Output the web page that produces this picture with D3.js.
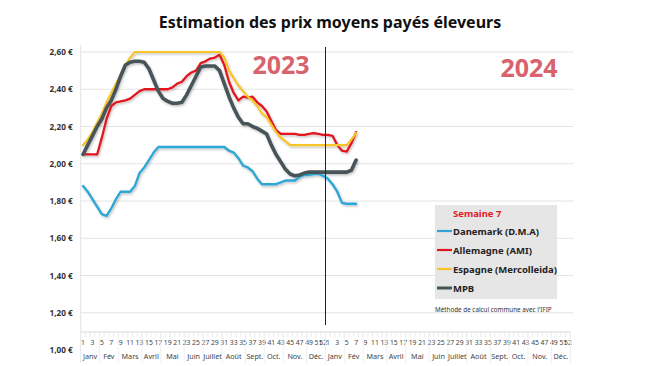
<!DOCTYPE html>
<html>
<head>
<meta charset="utf-8">
<script src="https://cdn.jsdelivr.net/npm/d3@7"></script>
<style>
  body { margin: 0; background: #fff; }
  svg { display: block; font-family: "Noto Sans", "Open Sans", sans-serif; }
</style>
</head>
<body>
<svg id="chart" width="650" height="366"></svg>
<script>
// data --------------------------------------------------------------
var years = ["2023", "2024"];
var weeksPerYear = 52;
var monthNames  = ["Janv","Fév","Mars","Avril","Mai","Juin","Juillet","Août","Sept.","Oct.","Nov.","Déc."];
var monthWeeks  = [4, 4, 5, 4, 5, 4, 4, 5, 4, 4, 5, 4];   // weeks per month
var yTicks = [1.0, 1.2, 1.4, 1.6, 1.8, 2.0, 2.2, 2.4, 2.6];

// 2023 w1..w52 then 2024 w1..w7
var danemark = [1.88,1.85,1.81,1.77,1.73,1.72,1.76,1.81,1.85,1.85,1.85,1.88,1.95,1.98,2.02,2.06,2.09,
  2.09,2.09,2.09,2.09,2.09,2.09,2.09,2.09,2.09,2.09,2.09,2.09,2.09,2.09,2.07,2.06,2.03,1.99,1.98,1.96,
  1.92,1.89,1.89,1.89,1.89,1.90,1.91,1.91,1.91,1.93,1.94,1.94,1.945,1.945,1.935,
  1.92,1.89,1.85,1.79,1.785,1.785,1.785];
var allemagne = [2.05,2.05,2.05,2.05,2.14,2.24,2.31,2.33,2.335,2.34,2.35,2.37,2.39,2.40,2.40,2.40,2.40,
  2.40,2.40,2.41,2.43,2.44,2.47,2.49,2.50,2.54,2.55,2.565,2.57,2.585,2.53,2.44,2.38,2.34,2.36,2.355,2.36,
  2.33,2.31,2.28,2.23,2.18,2.16,2.16,2.16,2.16,2.155,2.155,2.16,2.165,2.16,2.155,
  2.155,2.15,2.10,2.07,2.065,2.11,2.17];
var espagne = [2.10,2.13,2.17,2.22,2.27,2.33,2.38,2.43,2.48,2.53,2.57,2.60,2.60,2.60,2.60,2.60,2.60,
  2.60,2.60,2.60,2.60,2.60,2.60,2.60,2.60,2.60,2.60,2.60,2.60,2.60,2.57,2.50,2.46,2.42,2.39,2.36,2.34,
  2.31,2.27,2.25,2.21,2.17,2.14,2.12,2.10,2.10,2.10,2.10,2.10,2.10,2.10,2.10,
  2.10,2.10,2.10,2.10,2.10,2.13,2.165];
var mpb = [2.05,2.10,2.15,2.20,2.24,2.30,2.34,2.40,2.47,2.53,2.545,2.55,2.55,2.545,2.51,2.45,2.39,
  2.35,2.335,2.325,2.325,2.33,2.37,2.42,2.47,2.52,2.525,2.525,2.525,2.50,2.43,2.36,2.30,2.25,2.215,2.215,2.20,
  2.19,2.175,2.16,2.10,2.05,2.01,1.97,1.945,1.935,1.94,1.95,1.955,1.955,1.955,1.955,
  1.955,1.955,1.955,1.955,1.955,1.965,2.02];

var seriesNames  = ["Danemark (D.M.A)", "Allemagne (AMI)", "Espagne (Mercolleida)", "MPB"];
var seriesValues = [danemark, allemagne, espagne, mpb];
var seriesColors = ["#2fa6d6", "#e2161e", "#f7c429", "#465559"];
var seriesWidths = [2.4, 2.3, 2.2, 3.6];
var legendTitle = "Semaine 7";
var note = "Méthode de calcul commune avec l'IFIP";
var title = "Estimation des prix moyens payés éleveurs";

// layout --------------------------------------------------------------
var svg = d3.select("#chart");
var nCat = years.length * weeksPerYear;
var x = d3.scaleLinear().domain([0, nCat - 1]).range([83, 568]);
var step = x(1) - x(0);
var y = d3.scaleLinear().domain([1.0, 2.6]).range([350, 52]);
var left = x(0) - step / 2, right = x(nCat - 1) + step / 2;

var defs = svg.append("defs");
var filt = defs.append("filter").attr("id", "shadow").attr("x", "-10%").attr("y", "-10%")
  .attr("width", "120%").attr("height", "130%");
filt.append("feDropShadow").attr("dx", 1).attr("dy", 1.5).attr("stdDeviation", 1)
  .attr("flood-color", "#000").attr("flood-opacity", 0.25);

// title
svg.append("text").attr("x", 330).attr("y", 28).attr("text-anchor", "middle")
  .style("font-size", "16px").style("font-weight", "bold").style("fill", "#111")
  .text(title);

// y axis + grid
var yAxis = d3.axisLeft(y).tickValues(yTicks).tickSize(0).tickPadding(8)
  .tickFormat(function(d) { return d3.format(".2f")(d).replace(".", ",") + " €"; });
var gy = svg.append("g").attr("transform", "translate(" + left + ",0)").call(yAxis);
gy.select(".domain").remove();
gy.selectAll("text").style("font-size", "8.2px").style("font-weight", "bold").style("fill", "#333")
  .attr("font-family", "'Noto Sans', sans-serif");

svg.append("g").selectAll("line").data(yTicks.filter(function(d) { return d > 1.0; })).join("line")
  .attr("x1", left).attr("x2", right + 3)
  .attr("y1", function(d) { return y(d); }).attr("y2", function(d) { return y(d); })
  .style("stroke", "#e4e4e4").style("stroke-width", 1);

svg.append("line").attr("x1", left).attr("x2", left).attr("y1", 45).attr("y2", 363)
  .style("stroke", "#e4e4e4");

// x axis: week row and month row
var axisTop = 332;
svg.append("line").attr("x1", left).attr("x2", right).attr("y1", axisTop).attr("y2", axisTop)
  .style("stroke", "#d9d9d9");
svg.append("g").selectAll("line").data(d3.range(0, nCat + 1)).join("line")
  .attr("x1", function(d) { return x(d) - step / 2; }).attr("x2", function(d) { return x(d) - step / 2; })
  .attr("y1", axisTop).attr("y2", axisTop + 5)
  .style("stroke", "#e0e0e0").style("stroke-width", 0.6);

var weekLabels = [];
years.forEach(function(yr, yi) {
  for (var w = 1; w <= weeksPerYear; w++) {
    if (w % 2 === 1 || w === weeksPerYear) weekLabels.push({ i: yi * weeksPerYear + w - 1, t: String(w) });
  }
});
svg.append("g").selectAll("text").data(weekLabels).join("text")
  .attr("x", function(d) { return x(d.i); }).attr("y", axisTop + 13)
  .attr("text-anchor", "middle").style("font-size", "6.8px").style("fill", "#444")
  .text(function(d) { return d.t; });

var months = [];
years.forEach(function(yr, yi) {
  var start = yi * weeksPerYear;
  monthNames.forEach(function(m, mi) {
    months.push({ name: m, s: start, e: start + monthWeeks[mi] - 1 });
    start += monthWeeks[mi];
  });
});
svg.append("g").selectAll("line").data(months).join("line")
  .attr("x1", function(d) { return x(d.s) - step / 2; }).attr("x2", function(d) { return x(d.s) - step / 2; })
  .attr("y1", axisTop).attr("y2", 363)
  .style("stroke", "#ececec").style("stroke-width", 0.8);
svg.append("line").attr("x1", right).attr("x2", right).attr("y1", axisTop).attr("y2", 363)
  .style("stroke", "#ececec");
svg.append("g").selectAll("text").data(months).join("text")
  .attr("x", function(d) { return (x(d.s) + x(d.e)) / 2; }).attr("y", 359)
  .attr("text-anchor", "middle").style("font-size", "7.2px").style("fill", "#444")
  .text(function(d) { return d.name; });

// year labels
svg.append("text").attr("x", 281).attr("y", 74).attr("text-anchor", "middle")
  .style("font-size", "25px").style("font-weight", "bold").style("fill", "#d8636c")
  .text(years[0]);
svg.append("text").attr("x", 529).attr("y", 77).attr("text-anchor", "middle")
  .style("font-size", "25px").style("font-weight", "bold").style("fill", "#d8636c")
  .text(years[1]);

// lines
var line = d3.line().x(function(d, i) { return x(i); }).y(function(d) { return y(d); });
svg.append("g").attr("filter", "url(#shadow)").selectAll("path").data(seriesValues).join("path")
  .attr("d", line)
  .style("fill", "none")
  .style("stroke", function(d, i) { return seriesColors[i]; })
  .style("stroke-width", function(d, i) { return seriesWidths[i]; })
  .style("stroke-linejoin", "round").style("stroke-linecap", "round");

// year separator
var sepX = x(weeksPerYear) - step / 2;
svg.append("line").attr("x1", sepX).attr("x2", sepX).attr("y1", 47).attr("y2", 325)
  .style("stroke", "#222").style("stroke-width", 1);

// legend
var lg = svg.append("g").attr("transform", "translate(435,205)");
lg.append("rect").attr("width", 122).attr("height", 94).style("fill", "#e7e6e6");
lg.append("text").attr("x", 18).attr("y", 12).style("font-size", "9.5px").style("font-weight", "bold")
  .style("fill", "#e0202a").text(legendTitle);
var li = lg.selectAll("g.item").data(seriesNames).join("g").attr("class", "item")
  .attr("transform", function(d, i) { return "translate(0," + (26 + i * 19) + ")"; });
li.append("line").attr("x1", 2).attr("x2", 17).attr("y1", 0).attr("y2", 0)
  .style("stroke", function(d, i) { return seriesColors[i]; })
  .style("stroke-width", function(d, i) { return i === 3 ? 3 : 2.2; });
li.append("text").attr("x", 18).attr("y", 3.5).style("font-size", "9.5px").style("font-weight", "bold")
  .style("fill", "#222").text(function(d) { return d; });

svg.append("text").attr("x", 435).attr("y", 312).style("font-size", "6.3px").style("fill", "#333")
  .text(note);
</script>
</body>
</html>
